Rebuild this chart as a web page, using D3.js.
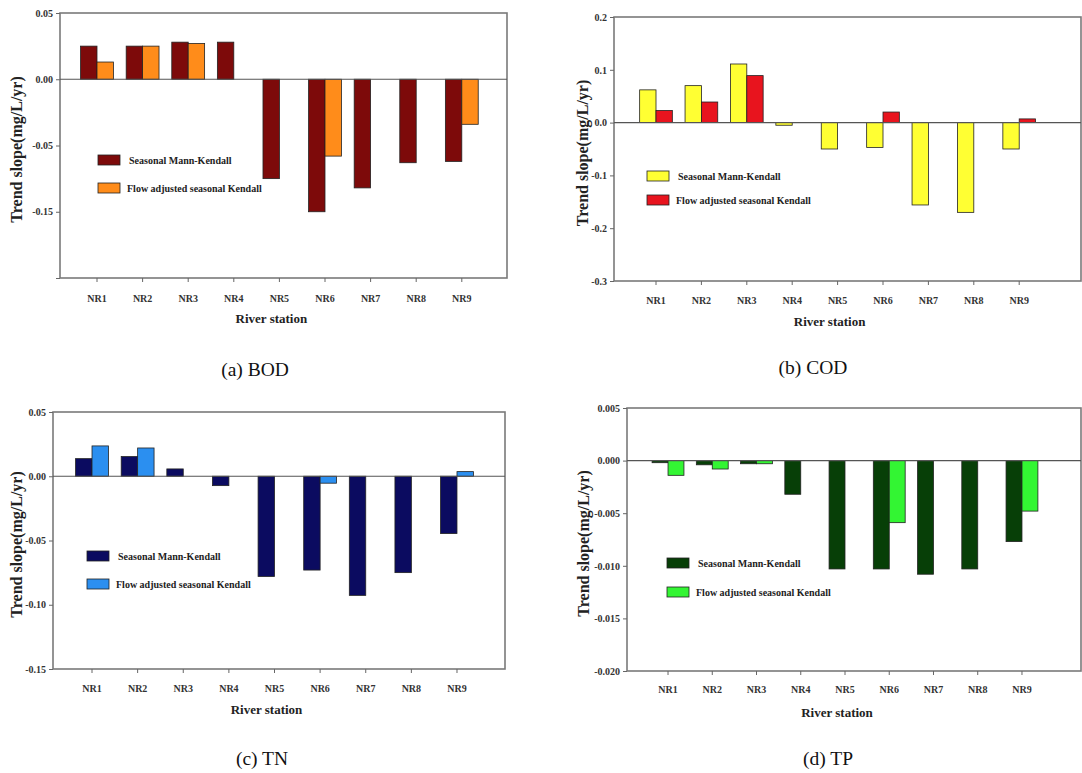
<!DOCTYPE html>
<html>
<head>
<meta charset="utf-8">
<script src="https://cdn.jsdelivr.net/npm/d3@7"></script>
<style>
  body { margin: 0; background: #fff; }
  text { font-family: "Liberation Serif", "Times New Roman", serif; }
</style>
</head>
<body>
<svg id="chart" width="1082" height="773"></svg>
<script>
// stations and series names
const stations = ["NR1", "NR2", "NR3", "NR4", "NR5", "NR6", "NR7", "NR8", "NR9"];
const seriesNames = ["Seasonal Mann-Kendall", "Flow adjusted seasonal Kendall"];
const captions = ["(a) BOD", "(b) COD", "(c) TN", "(d) TP"];

// trend slopes (mg/L/yr)
const bodSMK = [0.025, 0.025, 0.028, 0.028, -0.075, -0.100, -0.082, -0.063, -0.062];
const bodFA  = [0.013, 0.025, 0.027, 0, 0, -0.058, 0, 0, -0.034];
const codSMK = [0.062, 0.070, 0.111, -0.005, -0.050, -0.047, -0.156, -0.170, -0.050];
const codFA  = [0.023, 0.039, 0.089, 0, 0, 0.020, 0, 0, 0.007];
const tnSMK  = [0.0137, 0.0153, 0.0057, -0.0073, -0.078, -0.073, -0.0927, -0.075, -0.0446];
const tnFA   = [0.0236, 0.022, 0, 0, 0, -0.0054, 0, 0, 0.0036];
const tpSMK  = [-0.0002, -0.0004, -0.0003, -0.0032, -0.0103, -0.0103, -0.0108, -0.0103, -0.0077];
const tpFA   = [-0.0014, -0.0008, -0.0003, 0, 0, -0.0059, 0, 0, -0.0048];

// y ticks and their labels (as printed in the figure)
const bodTicks = [0.05, 0, -0.05, -0.10, -0.15];
const bodTickLabels = ["0.05", "0.00", "-0.05", "-0.15", ""];
const codTicks = [0.2, 0.1, 0, -0.1, -0.2, -0.3];
const codTickLabels = ["0.2", "0.1", "0.0", "-0.1", "-0.2", "-0.3"];
const tnTicks = [0.05, 0, -0.05, -0.10, -0.15];
const tnTickLabels = ["0.05", "0.00", "-0.05", "-0.10", "-0.15"];
const tpTicks = [0.005, 0, -0.005, -0.010, -0.015, -0.020];
const tpTickLabels = ["0.005", "0.000", "-0.005", "-0.010", "-0.015", "-0.020"];

const svg = d3.select("#chart");

// panel layout (pixel positions of each sub-figure)
const panels = [
  { smk: bodSMK, fa: bodFA, ticks: bodTicks, labels: bodTickLabels, caption: captions[0],
    colors: ["#7d0a0a", "#ff8c1a"],
    left: 60, right: 507, top: 13, bottom: 278, band: [74.2, 484.6],
    titleX: 16, legend: [98, 155], legendGap: 28, xLabY: 298, stationY: 323, capX: 255, capY: 376 },
  { smk: codSMK, fa: codFA, ticks: codTicks, labels: codTickLabels, caption: captions[1],
    colors: ["#ffff33", "#e8141e"],
    left: 614, right: 1081, top: 17, bottom: 281, band: [633.3, 1041.9],
    titleX: 582, legend: [647, 171], legendGap: 24, xLabY: 300, stationY: 326, capX: 813, capY: 374 },
  { smk: tnSMK, fa: tnFA, ticks: tnTicks, labels: tnTickLabels, caption: captions[2],
    colors: ["#0b0b60", "#2b8ff0"],
    left: 53, right: 505, top: 412, bottom: 669, band: [69.2, 479.8],
    titleX: 16, legend: [87, 551], legendGap: 28, xLabY: 688, stationY: 714, capX: 262, capY: 765 },
  { smk: tpSMK, fa: tpFA, ticks: tpTicks, labels: tpTickLabels, caption: captions[3],
    colors: ["#073f07", "#33f533"],
    left: 627, right: 1081, top: 408, bottom: 671, band: [645.9, 1044.1],
    titleX: 583, legend: [667, 558], legendGap: 29, xLabY: 689, stationY: 717, capX: 828, capY: 765 }
];

panels.forEach(p => {
  const g = svg.append("g");
  const rows = stations.map((s, i) => ({ station: s, values: [p.smk[i], p.fa[i]] }));

  const x0 = d3.scaleBand().domain(stations).range(p.band).padding(0);
  const x1 = d3.scaleBand().domain([0, 1])
    .range([x0.bandwidth() * 0.14, x0.bandwidth() * 0.86]).padding(0);
  const y = d3.scaleLinear()
    .domain([d3.min(p.ticks), d3.max(p.ticks)])
    .range([p.bottom, p.top]);

  // frame
  g.append("rect")
    .attr("x", p.left).attr("y", p.top)
    .attr("width", p.right - p.left).attr("height", p.bottom - p.top)
    .attr("fill", "none").attr("stroke", "#7a7a7a").attr("stroke-width", 1.6);

  // bars
  const groups = g.selectAll("g.grp").data(rows).enter().append("g")
    .attr("transform", d => `translate(${x0(d.station)},0)`);
  groups.selectAll("rect")
    .data(d => d.values.map((v, k) => ({ k, v })).filter(d => d.v !== 0))
    .enter().append("rect")
      .attr("x", d => x1(d.k))
      .attr("y", d => y(Math.max(0, d.v)))
      .attr("width", x1.bandwidth())
      .attr("height", d => Math.abs(y(d.v) - y(0)))
      .attr("fill", d => p.colors[d.k])
      .attr("stroke", "#222").attr("stroke-width", 0.8);

  // zero line
  g.append("line")
    .attr("x1", p.left).attr("x2", p.right)
    .attr("y1", y(0)).attr("y2", y(0))
    .attr("stroke", "#555").attr("stroke-width", 1.2);

  // y axis
  const yAxis = g.append("g")
    .attr("transform", `translate(${p.left},0)`)
    .call(d3.axisLeft(y).tickValues(p.ticks).tickSize(4).tickPadding(3)
      .tickFormat((d, i) => p.labels[i]));
  yAxis.select(".domain").remove();
  yAxis.selectAll("line").attr("stroke", "#666");
  yAxis.selectAll("text")
    .style("font-weight", "bold").style("font-size", "10px").attr("fill", "#333");

  // x axis
  const xAxis = g.append("g")
    .attr("transform", `translate(0,${p.bottom})`)
    .call(d3.axisBottom(x0).tickSize(4).tickPadding(8));
  xAxis.select(".domain").remove();
  xAxis.selectAll("line").attr("stroke", "#666");
  xAxis.selectAll("text")
    .style("font-weight", "bold").style("font-size", "10px").attr("fill", "#333")
    .attr("y", p.xLabY - p.bottom).attr("dy", "0.35em");

  // axis titles
  g.append("text")
    .attr("transform", `translate(${p.titleX},${(p.top + p.bottom) / 2 + 4}) rotate(-90)`)
    .attr("text-anchor", "middle").attr("dy", "0.35em")
    .attr("font-weight", "bold").attr("font-size", "16px").attr("fill", "#222")
    .text("Trend slope(mg/L/yr)");
  g.append("text")
    .attr("x", x0(stations[4]) + x0.bandwidth() / 2 - 8)
    .attr("y", p.stationY)
    .attr("text-anchor", "middle")
    .attr("font-weight", "bold").attr("font-size", "13px").attr("fill", "#222")
    .text("River station");

  // legend
  seriesNames.forEach((name, k) => {
    const ly = p.legend[1] + k * p.legendGap;
    g.append("rect")
      .attr("x", p.legend[0]).attr("y", ly)
      .attr("width", 22).attr("height", 10)
      .attr("fill", p.colors[k]).attr("stroke", "#222").attr("stroke-width", 0.8);
    g.append("text")
      .attr("x", p.legend[0] + 31 - k * 2).attr("y", ly + 5)
      .attr("dy", "0.35em")
      .attr("font-weight", "bold").attr("font-size", "10px").attr("fill", "#222")
      .text(name);
  });

  // caption
  g.append("text")
    .attr("x", p.capX).attr("y", p.capY)
    .attr("text-anchor", "middle")
    .attr("font-size", "19.5px").attr("fill", "#111")
    .text(p.caption);
});
</script>
</body>
</html>
